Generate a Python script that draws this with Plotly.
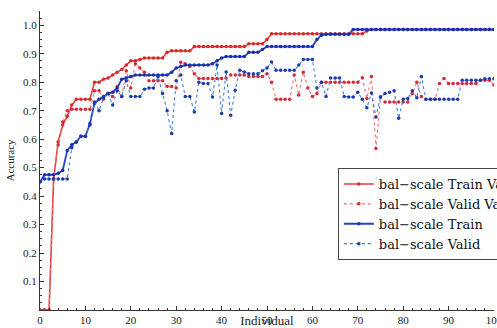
import plotly.graph_objects as go

individual = list(range(0, 101))

train_var = [
    0, 0, 0, 0.46, 0.59, 0.65, 0.68, 0.72, 0.74, 0.74,
    0.74, 0.74, 0.80, 0.80, 0.81, 0.815, 0.825, 0.835, 0.845, 0.86,
    0.875, 0.875, 0.88, 0.885, 0.885, 0.885, 0.885, 0.885, 0.905, 0.91,
    0.91, 0.91, 0.91, 0.91, 0.925, 0.925, 0.925, 0.925, 0.925, 0.925,
    0.925, 0.925, 0.925, 0.925, 0.925, 0.925, 0.935, 0.935, 0.935, 0.935,
    0.95, 0.97, 0.97, 0.97, 0.97, 0.97, 0.97, 0.97, 0.97, 0.97,
    0.97, 0.97, 0.97, 0.97, 0.97, 0.97, 0.97, 0.97, 0.97, 0.97,
    0.97, 0.97, 0.98, 0.985, 0.985, 0.985, 0.985, 0.985, 0.985, 0.985,
    0.985, 0.985, 0.985, 0.985, 0.985, 0.985, 0.985, 0.985, 0.985, 0.985,
    0.985, 0.985, 0.985, 0.985, 0.985, 0.985, 0.985, 0.985, 0.985, 0.985,
    0.985,
]

valid_var = [
    0, 0, 0, 0.46, 0.58, 0.66, 0.70, 0.705, 0.705, 0.705,
    0.705, 0.705, 0.77, 0.77, 0.74, 0.76, 0.75, 0.785, 0.75, 0.84,
    0.78, 0.865, 0.85, 0.835, 0.805, 0.805, 0.805, 0.805, 0.785, 0.785,
    0.78, 0.87, 0.865, 0.855, 0.83, 0.813, 0.813, 0.813, 0.813, 0.813,
    0.813, 0.815, 0.825, 0.825, 0.825, 0.825, 0.82, 0.82, 0.82, 0.82,
    0.83, 0.80, 0.74, 0.74, 0.74, 0.74, 0.825, 0.755, 0.835, 0.78,
    0.75, 0.76, 0.80, 0.80, 0.80, 0.80, 0.80, 0.80, 0.80, 0.80,
    0.80, 0.816, 0.743, 0.82, 0.567, 0.749, 0.73, 0.73, 0.73, 0.73,
    0.73, 0.73, 0.76, 0.80, 0.75, 0.74, 0.74, 0.74, 0.795, 0.813,
    0.795, 0.795, 0.795, 0.795, 0.795, 0.795, 0.795, 0.807, 0.807, 0.807,
    0.79,
]

train = [
    0.45, 0.475, 0.475, 0.475, 0.48, 0.49, 0.56, 0.58, 0.59, 0.61,
    0.61, 0.655, 0.725, 0.74, 0.75, 0.76, 0.765, 0.78, 0.81, 0.815,
    0.82, 0.825, 0.825, 0.825, 0.825, 0.825, 0.825, 0.825, 0.825, 0.835,
    0.85, 0.855, 0.86, 0.86, 0.86, 0.86, 0.86, 0.86, 0.865, 0.875,
    0.885, 0.89, 0.89, 0.89, 0.89, 0.89, 0.905, 0.905, 0.905, 0.915,
    0.925, 0.925, 0.925, 0.925, 0.925, 0.925, 0.925, 0.925, 0.925, 0.925,
    0.925, 0.95, 0.965, 0.968, 0.968, 0.968, 0.968, 0.968, 0.968, 0.985,
    0.985, 0.985, 0.985, 0.985, 0.985, 0.985, 0.985, 0.985, 0.985, 0.985,
    0.985, 0.985, 0.985, 0.985, 0.985, 0.985, 0.985, 0.985, 0.985, 0.985,
    0.985, 0.985, 0.985, 0.985, 0.985, 0.985, 0.985, 0.985, 0.985, 0.985,
    0.985,
]

valid = [
    0.45, 0.46, 0.46, 0.46, 0.46, 0.46, 0.46, 0.57, 0.59, 0.61,
    0.61, 0.65, 0.73, 0.70, 0.745, 0.76, 0.72, 0.77, 0.75, 0.805,
    0.75, 0.75, 0.75, 0.775, 0.78, 0.78, 0.82, 0.76, 0.70, 0.62,
    0.805, 0.825, 0.75, 0.75, 0.695, 0.80, 0.795, 0.795, 0.748, 0.86,
    0.69, 0.836, 0.684, 0.772, 0.842, 0.836, 0.83, 0.83, 0.83, 0.84,
    0.85, 0.871, 0.842, 0.842, 0.842, 0.842, 0.842, 0.86, 0.88, 0.88,
    0.88, 0.78, 0.80, 0.75, 0.815, 0.815, 0.815, 0.75, 0.748, 0.748,
    0.765, 0.74, 0.71, 0.762, 0.678, 0.748, 0.76, 0.765, 0.77, 0.673,
    0.74, 0.743, 0.77, 0.745, 0.82, 0.74, 0.74, 0.74, 0.74, 0.74,
    0.74, 0.74, 0.74, 0.807, 0.807, 0.807, 0.807, 0.807, 0.812, 0.812,
    0.812,
]

names = ["bal\u2212scale Train Var", "bal\u2212scale Valid Var",
         "bal\u2212scale Train", "bal\u2212scale Valid"]

fig = go.Figure()
fig.add_trace(go.Scatter(x=individual, y=train_var, name=names[0], mode="lines+markers",
                         line=dict(color="#e0413c", width=1.6),
                         marker=dict(color="#d42a2a", size=3.5, symbol="circle")))
fig.add_trace(go.Scatter(x=individual, y=valid_var, name=names[1], mode="lines+markers",
                         line=dict(color="#f07070", width=1.1, dash="dot"),
                         marker=dict(color="#d42a3a", size=3.5, symbol="circle")))
fig.add_trace(go.Scatter(x=individual, y=train, name=names[2], mode="lines+markers",
                         line=dict(color="#2240d0", width=1.8),
                         marker=dict(color="#1a2fa8", size=3.5, symbol="circle")))
fig.add_trace(go.Scatter(x=individual, y=valid, name=names[3], mode="lines+markers",
                         line=dict(color="#3d7fe0", width=1.1, dash="dot"),
                         marker=dict(color="#1c3aa8", size=3.5, symbol="circle")))

serif = "Liberation Serif, Times New Roman, serif"
fig.update_layout(
    width=497, height=328,
    margin=dict(l=40, r=3, t=11, b=18, autoexpand=False),
    paper_bgcolor="white", plot_bgcolor="white",
    font=dict(family=serif, color="#222", size=11),
    showlegend=True,
    legend=dict(x=0.656, y=0.475, xanchor="left", yanchor="top",
                bgcolor="white", bordercolor="#3a4a4a", borderwidth=1,
                font=dict(family="DejaVu Serif, serif", size=13, color="#111"),
                tracegroupgap=0, itemwidth=30),
    xaxis=dict(range=[0, 100], tickvals=list(range(0, 101, 10)),
               showgrid=False, zeroline=False, showline=True, linecolor="#333", linewidth=1,
               ticks="inside", ticklen=4, tickcolor="#333", ticklabeloverflow="allow",
               automargin=False,
               minor=dict(ticks="inside", ticklen=2, dtick=2, tickcolor="#333"),
               title=dict(text="Individual", font=dict(size=13), standoff=8),
               tickfont=dict(size=11)),
    yaxis=dict(range=[0, 1.05], tickvals=[0.1, 0.2, 0.3, 0.4, 0.5, 0.6, 0.7, 0.8, 0.9, 1.0],
               ticktext=["0.1", "0.2", "0.3", "0.4", "0.5", "0.6", "0.7", "0.8", "0.9", "1.0"],
               showgrid=False, zeroline=False, showline=True, linecolor="#333", linewidth=1,
               ticks="inside", ticklen=4, tickcolor="#333", automargin=False,
               minor=dict(ticks="inside", ticklen=2, dtick=0.025, tickcolor="#333"),
               title=dict(text="Accuracy", font=dict(size=11), standoff=6),
               tickfont=dict(size=11)),
)

fig.write_html("out.html")
